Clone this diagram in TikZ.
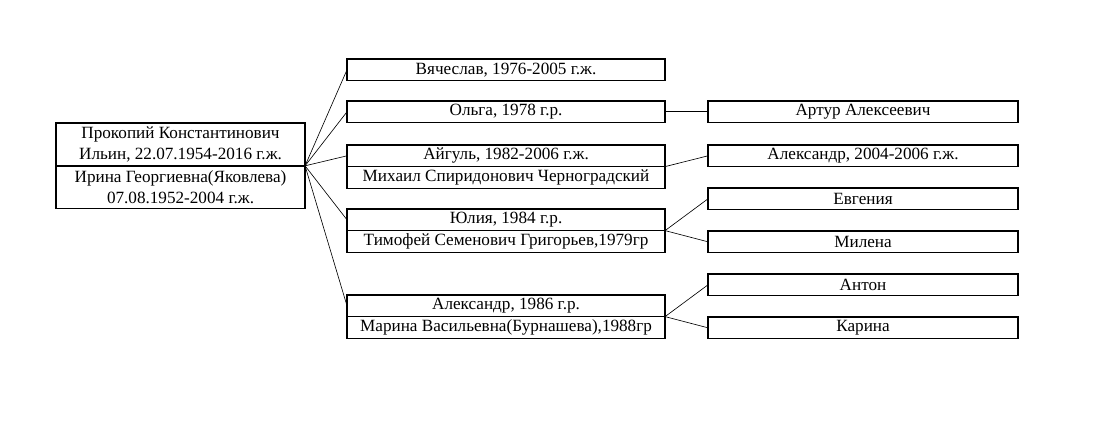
\documentclass[tikz,border=0pt]{standalone}
\usepackage{fontspec}
\setmainfont{Liberation Serif}
\usepackage{tikz}
\usetikzlibrary{positioning}

\begin{document}
\begin{tikzpicture}[x=0.025cm,y=-0.025cm,
        cell/.style={draw,line width=1pt,inner sep=0pt,outer sep=0pt,
                     font=\fontsize{12.2}{14.9}\selectfont,
                     minimum height=0.54cm,align=center},
        kid/.style={cell,minimum width=7.95cm},
        grand/.style={cell,minimum width=7.75cm},
        root/.style={cell,minimum width=6.225cm,minimum height=1.07cm},
        link/.style={line width=0.45pt}
      ]
        \useasboundingbox (0,0) rectangle (1106,424);
        % parents
        \node[root,anchor=north west] (P) at (56,123) {Прокопий Константинович\\Ильин, 22.07.1954-2016 г.ж.};
        \node[root,below=0pt of P] (Ps) {Ирина Георгиевна(Яковлева)\\07.08.1952-2004 г.ж.};
        % children
        \node[kid,anchor=north west] (V) at (347,59) {Вячеслав, 1976-2005 г.ж.};
        \node[kid,anchor=north west] (O) at (347,101) {Ольга, 1978 г.р.};
        \node[kid,anchor=north west] (Ai) at (347,145) {Айгуль, 1982-2006 г.ж.};
        \node[kid,below=0pt of Ai] (Ais) {Михаил Спиридонович Черноградский};
        \node[kid,anchor=north west] (Yu) at (347,209) {Юлия, 1984 г.р.};
        \node[kid,below=0pt of Yu] (Yus) {Тимофей Семенович Григорьев,1979гр};
        \node[kid,anchor=north west] (Al) at (347,295) {Александр, 1986 г.р.};
        \node[kid,below=0pt of Al] (Als) {Марина Васильевна(Бурнашева),1988гр};
        % grandchildren
        \node[grand,anchor=north west] (Ar) at (708,101) {Артур Алексеевич};
        \node[grand,anchor=north west] (As) at (708,145) {Александр, 2004-2006 г.ж.};
        \node[grand,anchor=north west] (Ev) at (708,188) {Евгения};
        \node[grand,anchor=north west] (Mi) at (708,231) {Милена};
        \node[grand,anchor=north west] (An) at (708,274) {Антон};
        \node[grand,anchor=north west] (Ka) at (708,317) {Карина};
        \draw[link] (P.south east)--(V.west);
        \draw[link] (P.south east)--(O.west);
        \draw[link] (P.south east)--(Ai.west);
        \draw[link] (P.south east)--(Yu.west);
        \draw[link] (P.south east)--(Al.west);
        \draw[link] (O.east)--(Ar.west);
        \draw[link] (Ai.south east)--(As.west);
        \draw[link] (Yu.south east)--(Ev.west);
        \draw[link] (Yu.south east)--(Mi.west);
        \draw[link] (Al.south east)--(An.west);
        \draw[link] (Al.south east)--(Ka.west);
      \end{tikzpicture}
\end{document}
